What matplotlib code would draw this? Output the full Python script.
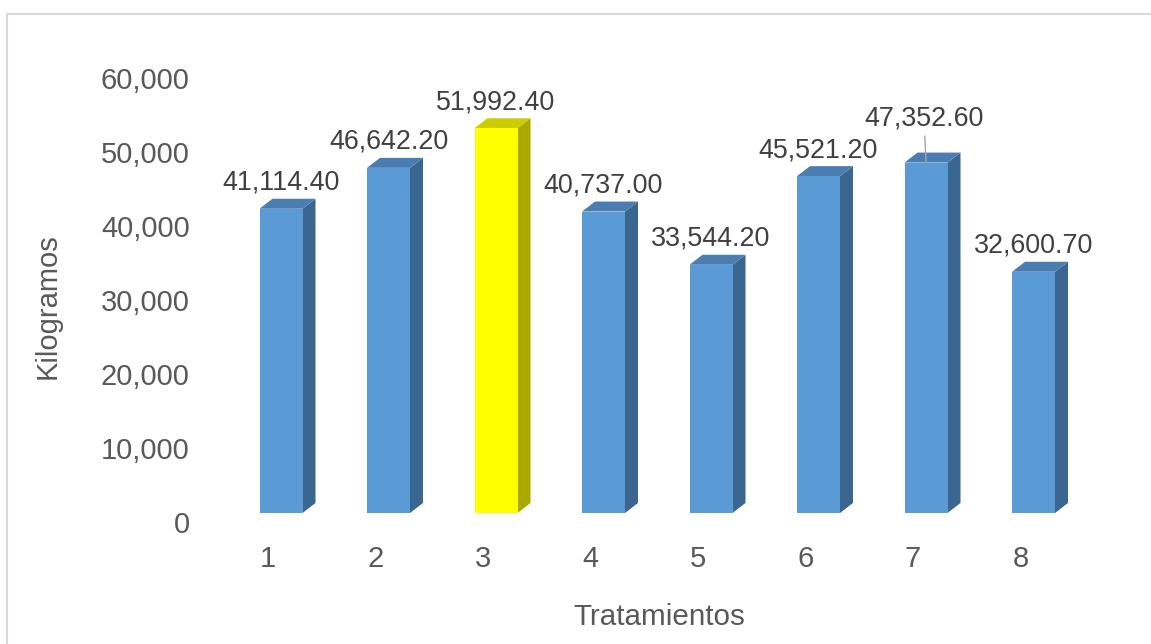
import matplotlib.pyplot as plt
from matplotlib.patches import Polygon, Rectangle
from matplotlib.transforms import ScaledTranslation
import numpy as np

plt.rcParams['font.family'] = ['Liberation Sans', 'DejaVu Sans']

tratamientos = ['1', '2', '3', '4', '5', '6', '7', '8']
kilogramos = [41114.40, 46642.20, 51992.40, 40737.00, 33544.20, 45521.20, 47352.60, 32600.70]
destacado = 3  # tratamiento resaltado en amarillo
y_ticks = [0, 10000, 20000, 30000, 40000, 50000, 60000]

W, H, DPI = 1151, 644, 100
fig = plt.figure(figsize=(W / DPI, H / DPI), dpi=DPI)

# borde gris del area del grafico
fig.patches.append(Rectangle((6.5 / W, -0.05), 1.1, 1 - 14 / H + 0.05,
                             transform=fig.transFigure, fill=False,
                             edgecolor='#d9d9d9', linewidth=1.5))

ax_l, ax_r, ax_b, ax_t = 227.25, 1087.25, 513, 69
ax = fig.add_axes([ax_l / W, (H - ax_b) / H, (ax_r - ax_l) / W, (ax_b - ax_t) / H])
ax.set_xlim(0.5, 8.5)
ax.set_ylim(0, 60000)
for s in ax.spines.values():
    s.set_visible(False)

# profundidad 3D en pixeles -> unidades de datos
dx = 13 * 8 / (ax_r - ax_l)
dy = 10 * 60000 / (ax_b - ax_t)
width = 0.4

x = np.arange(1, len(kilogramos) + 1)
for xi, v in zip(x, kilogramos):
    if xi == destacado:
        front, top, side = '#ffff00', '#cccc00', '#a9a900'
    else:
        front, top, side = '#5b9bd5', '#4a7db2', '#3b6690'
    xl, xr = xi - width / 2, xi + width / 2
    ax.add_patch(Polygon([(xr, 0), (xr + dx, dy), (xr + dx, v + dy), (xr, v)],
                         closed=True, facecolor=side, edgecolor='none'))
    ax.add_patch(Polygon([(xl, v), (xr, v), (xr + dx, v + dy), (xl + dx, v + dy)],
                         closed=True, facecolor=top, edgecolor='none'))
    ax.bar(xi, v, width=width, color=front, edgecolor='none')

    lbl = f'{v:,.2f}'
    if xi == 7:
        ax.annotate(lbl, xy=(xi, v), xytext=(-1.5, 31.5), textcoords='offset points',
                    ha='center', va='center', fontsize=19.4, color='#404040',
                    arrowprops=dict(arrowstyle='-', color='#a6a6a6', lw=1,
                                    shrinkA=1, shrinkB=0))
    else:
        ax.annotate(lbl, xy=(xi, v), xytext=(0, 18.7), textcoords='offset points',
                    ha='center', va='center', fontsize=19.4, color='#404040')

ax.set_yticks(y_ticks)
ax.set_yticklabels([f'{t:,}' for t in y_ticks])
ax.set_xticks(x)
ax.set_xticklabels(tratamientos)
ax.tick_params(axis='both', length=0, labelsize=21, labelcolor='#595959')
ax.tick_params(axis='y', pad=27)
ax.tick_params(axis='x', pad=23)

off_y = ScaledTranslation(0, -9 / DPI, fig.dpi_scale_trans)
for t in ax.get_yticklabels():
    t.set_transform(t.get_transform() + off_y)
off_x = ScaledTranslation(-13 / DPI, 0, fig.dpi_scale_trans)
for t in ax.get_xticklabels():
    t.set_transform(t.get_transform() + off_x)

fig.text(48 / W, 1 - 306 / H, 'Kilogramos', rotation=90, ha='center', va='center',
         fontsize=21, color='#595959')
fig.text(659 / W, 1 - 617 / H, 'Tratamientos', ha='center', va='center',
         fontsize=21.3, color='#595959')

fig.savefig('out.png', dpi=DPI)
